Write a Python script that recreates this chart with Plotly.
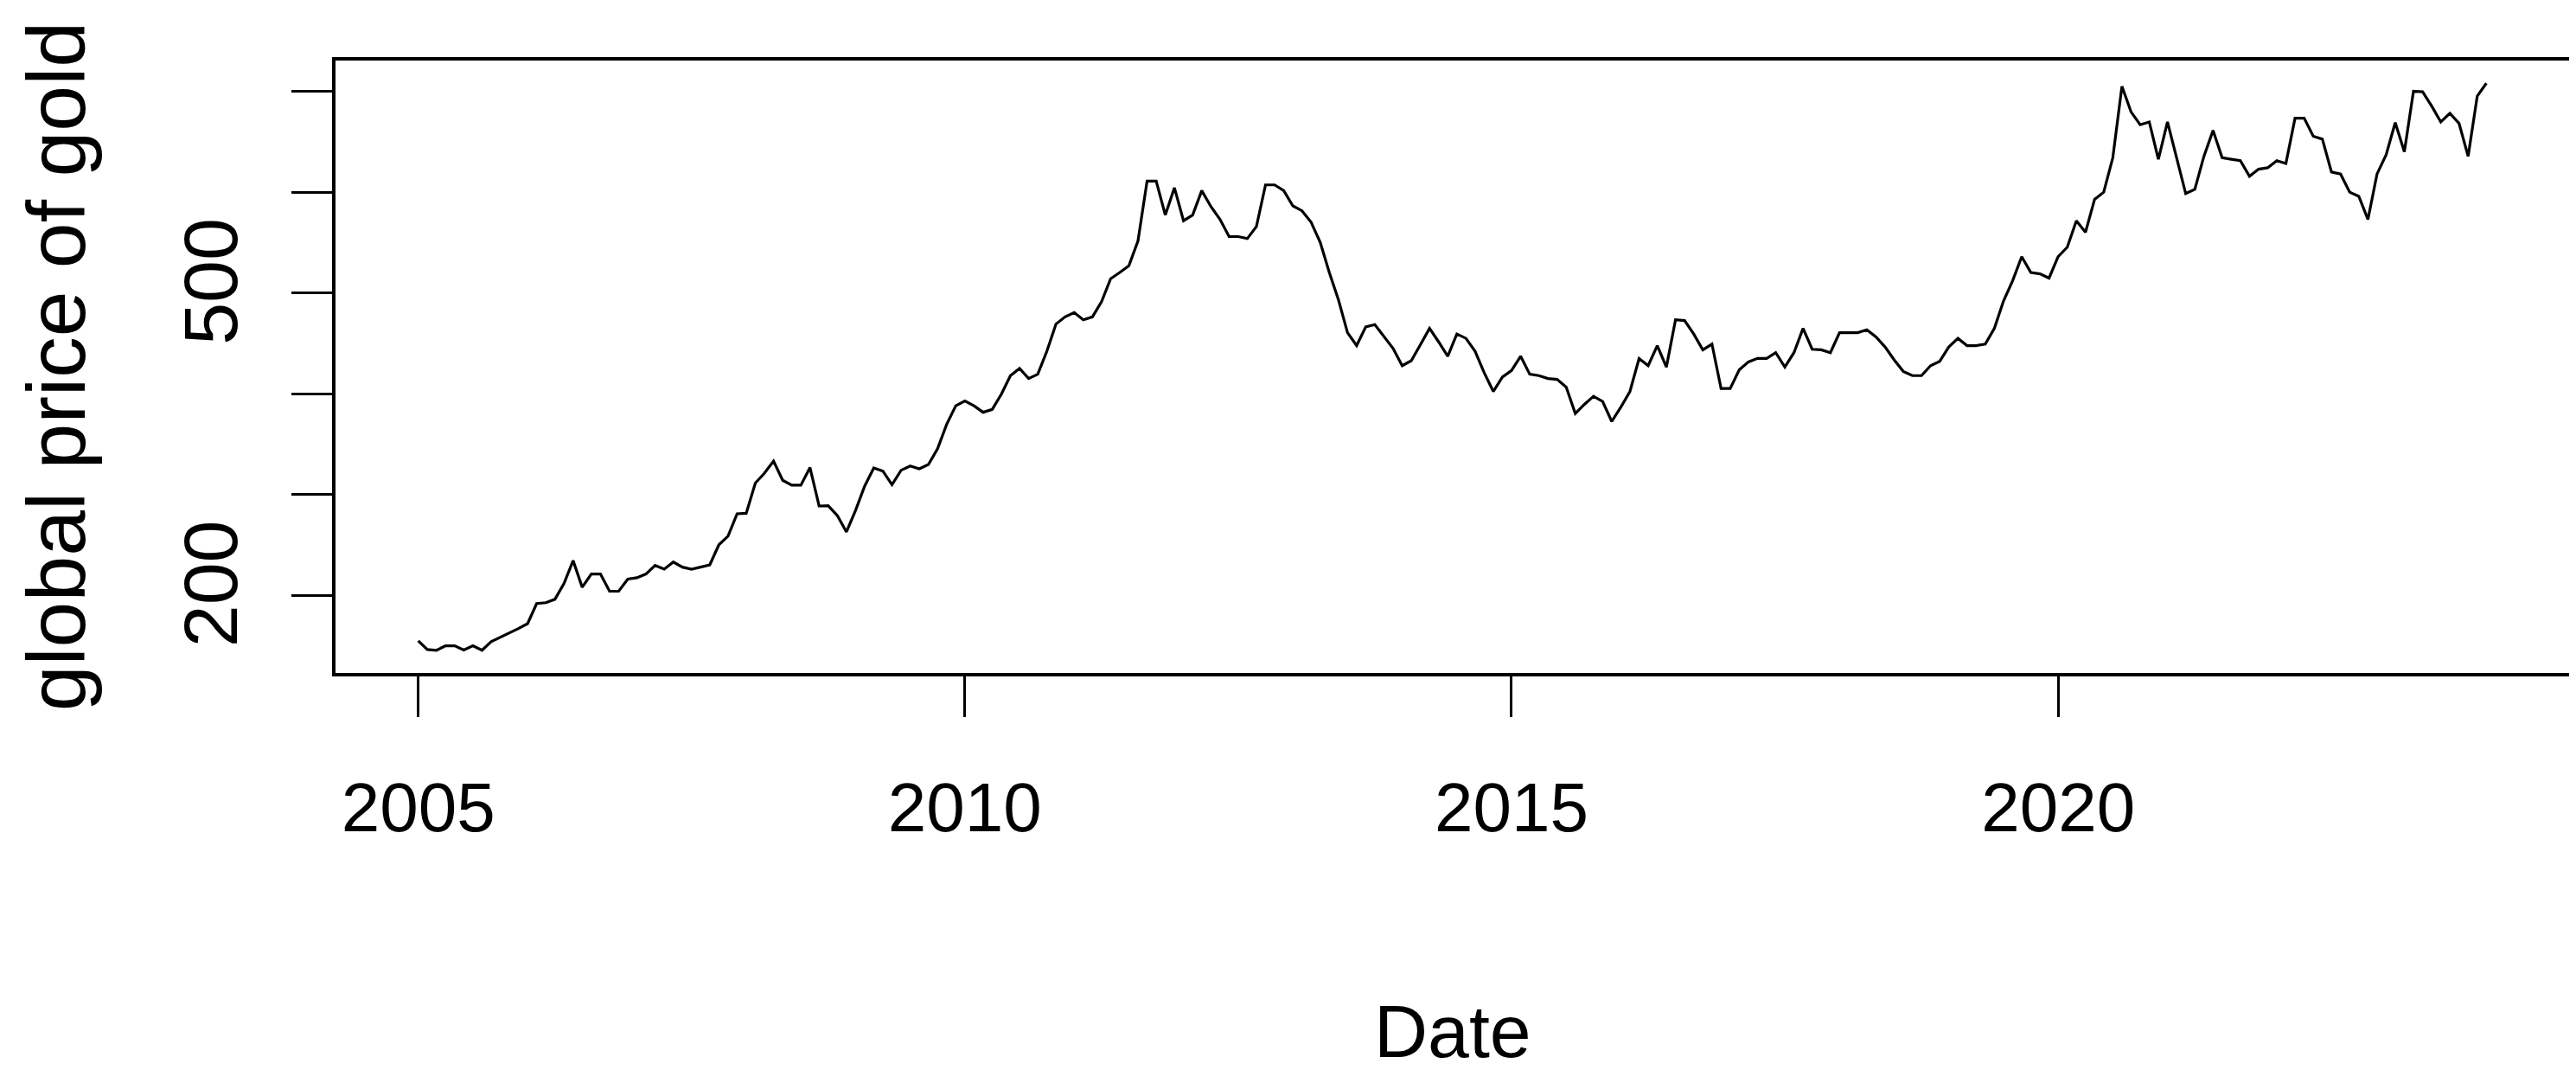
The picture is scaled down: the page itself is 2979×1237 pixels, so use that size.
import plotly.graph_objects as go

# Monthly series, Jan 2005 .. Dec 2023
start_year = 2005
months_per_year = 12
gold_price = [
    154.7, 146.1, 145.3, 149.8, 149.8, 145.6, 149.8, 145.3, 153.8, 158.0, 162.3, 166.9,
    171.7, 191.7, 192.5, 195.9, 211.6, 234.3, 207.9, 221.0, 221.0, 203.9, 203.9, 215.9,
    217.3, 221.0, 229.5, 225.8, 232.9, 227.8, 225.8, 227.8, 230.1, 250.0, 258.6, 280.8,
    281.3, 311.2, 321.1, 333.1, 314.0, 309.2, 309.2, 326.6, 288.5, 288.7, 279.0, 262.8,
    284.1, 308.3, 326.3, 323.1, 309.7, 324.0, 328.2, 325.4, 329.7, 345.3, 369.5, 388.0,
    392.8, 388.0, 381.5, 384.3, 399.4, 417.9, 425.0, 415.0, 419.3, 442.1, 469.1, 476.2,
    480.5, 473.3, 476.2, 491.3, 514.1, 520.3, 526.9, 551.6, 611.0, 611.0, 577.3, 604.3,
    571.6, 577.3, 601.5, 585.8, 573.0, 555.9, 555.9, 553.9, 565.9, 607.2, 607.2, 601.5,
    586.4, 581.5, 570.2, 550.2, 520.3, 493.3, 460.5, 447.7, 466.3, 468.6, 457.1, 444.9,
    427.8, 432.7, 448.6, 464.8, 451.4, 437.2, 459.2, 454.9, 442.1, 420.8, 402.2, 416.5,
    423.0, 437.2, 419.3, 417.9, 415.0, 414.2, 406.5, 380.3, 389.4, 397.4, 392.3, 372.4,
    386.6, 402.2, 434.9, 427.8, 447.7, 426.4, 473.3, 472.5, 459.2, 443.5, 449.2, 405.1,
    405.1, 423.6, 431.5, 435.0, 435.0, 440.7, 426.4, 440.7, 464.8, 444.1, 443.5, 440.7,
    460.5, 460.5, 460.5, 463.4, 456.3, 446.4, 433.6, 422.1, 417.9, 417.9, 427.8, 432.1,
    446.4, 454.9, 447.7, 447.7, 449.2, 464.8, 491.9, 512.0, 536.0, 520.3, 518.9, 514.7,
    536.0, 545.4, 571.6, 560.2, 592.9, 600.0, 634.2, 705.0, 679.7, 666.9, 669.7, 632.7,
    669.7, 634.2, 598.6, 602.8, 635.6, 661.2, 634.2, 632.7, 631.3, 615.7, 622.8, 624.2,
    631.3, 628.5, 673.4, 673.4, 655.5, 652.6, 620.0, 618.0, 600.0, 595.8, 572.9, 618.0,
    637.0, 669.0, 640.0, 700.1, 699.6, 685.4, 669.7, 678.3, 668.3, 635.6, 695.3, 708.1,
]
dates = [start_year + k / months_per_year for k in range(len(gold_price))]

x_tick_vals = [2005, 2010, 2015, 2020]
x_tick_text = ["2005", "2010", "2015", "2020"]
y_tick_vals = [200, 300, 400, 500, 600, 700]
y_tick_text = ["200", "", "", "500", "", ""]

x_title = "Date"
y_title = "global price of gold"

# R-style 4% padding of axis ranges
xmin, xmax = min(dates), max(dates)
ymin, ymax = min(gold_price), max(gold_price)
xpad = 0.04 * (xmax - xmin)
ypad = 0.04 * (ymax - ymin)

W, H = 2979, 1237
L, R, T, B = 380, 13, 62, 467
FONT = "Liberation Sans, Arial, sans-serif"

fig = go.Figure()
fig.add_trace(go.Scatter(
    x=dates, y=gold_price, mode="lines",
    line=dict(color="black", width=3.2),
    hoverinfo="x+y", showlegend=False,
))

axis_common = dict(
    showline=True, mirror=True, linecolor="black", linewidth=4,
    ticks="outside", ticklen=47, tickwidth=2.5, tickcolor="black",
    showgrid=False, zeroline=False,
)

fig.update_layout(
    width=W, height=H, autosize=False,
    margin=dict(l=L, r=R, t=T, b=B, pad=0),
    paper_bgcolor="white", plot_bgcolor="white",
    xaxis=dict(
        range=[xmin - xpad, xmax + xpad],
        tickmode="array", tickvals=x_tick_vals, ticktext=x_tick_text,
        tickfont=dict(family=FONT, size=80, color="black"),
        ticklabelstandoff=36,
        **axis_common,
    ),
    yaxis=dict(
        range=[ymin - ypad, ymax + ypad],
        tickmode="array", tickvals=y_tick_vals, ticktext=y_tick_text,
        tickangle=-90,
        tickfont=dict(family=FONT, size=88, color="black"),
        ticklabelstandoff=28,
        **axis_common,
    ),
    annotations=[
        dict(text=y_title, textangle=-90, showarrow=False,
             xref="paper", yref="paper",
             x=(57 - L) / (W - L - R), y=0.5,
             xanchor="center", yanchor="middle",
             font=dict(family=FONT, size=95, color="black")),
        dict(text=x_title, showarrow=False,
             xref="paper", yref="paper",
             x=0.5, y=(H - B - 1234) / (H - T - B),
             xanchor="center", yanchor="bottom",
             font=dict(family=FONT, size=86, color="black")),
    ],
)

fig.write_html("out.html")
